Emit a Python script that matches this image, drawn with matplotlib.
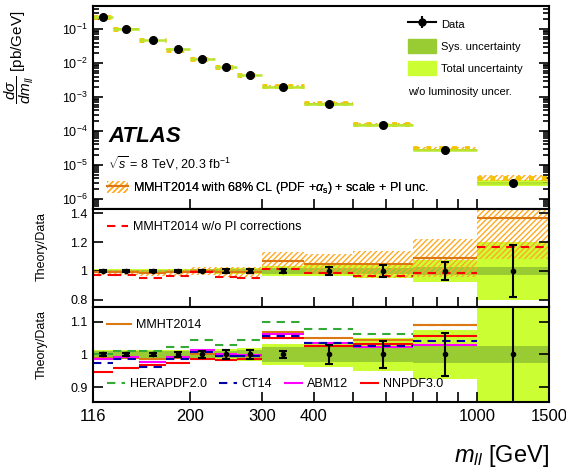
import numpy as np
import matplotlib
matplotlib.use('Agg')
import matplotlib.pyplot as plt
from matplotlib.patches import Patch
from matplotlib.lines import Line2D
from matplotlib.ticker import LogLocator, FixedLocator, FixedFormatter, NullLocator

plt.rcParams['font.family'] = ['Liberation Sans', 'DejaVu Sans']
plt.rcParams['mathtext.fontset'] = 'custom'
plt.rcParams['mathtext.rm'] = 'Liberation Sans'
plt.rcParams['mathtext.it'] = 'Liberation Sans:italic'
plt.rcParams['mathtext.bf'] = 'Liberation Sans:bold'
plt.rcParams['hatch.linewidth'] = 1.0

# m_ll bin edges [GeV]
edges = np.array([116, 130, 150, 175, 200, 230, 260, 300, 380, 500, 700, 1000, 1500])
# measured dsigma/dm_ll [pb/GeV]
xsec = np.array([0.224, 0.104, 0.048, 0.0252, 0.0133, 0.0076, 0.0044, 0.00195, 6.3e-4, 1.5e-4, 2.8e-5, 3.0e-6])
# relative uncertainties of the data
stat = np.array([0.004, 0.005, 0.006, 0.007, 0.01, 0.013, 0.014, 0.012, 0.03, 0.04, 0.065, 0.18])
sys_unc = np.array([0.01, 0.01, 0.01, 0.01, 0.011, 0.012, 0.013, 0.022, 0.022, 0.023, 0.025, 0.025])
tot_unc = np.array([0.015, 0.015, 0.015, 0.015, 0.016, 0.018, 0.02, 0.033, 0.038, 0.05, 0.075, 0.2])
# theory / data
mmht = np.array([0.99, 0.99, 0.985, 0.99, 1.0, 0.995, 0.995, 1.07, 1.05, 1.045, 1.09, 1.37])
mmht_unc = np.array([0.02, 0.02, 0.02, 0.025, 0.03, 0.035, 0.035, 0.055, 0.065, 0.09, 0.12, 0.21])
mmht_nopi = np.array([0.975, 0.975, 0.952, 0.966, 0.99, 0.96, 0.953, 1.015, 0.985, 0.965, 0.985, 1.165])
hera = np.array([1.002, 1.012, 1.01, 1.023, 1.043, 1.028, 1.043, 1.098, 1.079, 1.064, 1.089, 1.40])
ct14 = np.array([0.973, 0.987, 0.961, 0.987, 1.009, 0.995, 0.995, 1.055, 1.036, 1.026, 1.041, 1.30])
abm12 = np.array([0.987, 0.992, 0.976, 0.992, 1.015, 1.002, 0.999, 1.063, 1.036, 1.022, 1.028, 1.25])
nnpdf = np.array([0.946, 0.958, 0.969, 0.973, 0.987, 0.982, 0.987, 1.05, 1.026, 1.032, 1.056, 1.35])

xtick_vals = [116, 200, 300, 400, 500, 600, 700, 800, 900, 1000, 1500]
xtick_labs = ['116', '200', '300', '400', '', '', '', '', '', '1000', '1500']

C_TOT = '#ccff33'
C_SYS = '#99cc33'
C_HATCH = '#ffaa22'
C_TH = '#dd7711'

centers = np.sqrt(edges[:-1] * edges[1:])
lo = edges[:-1]
hi = edges[1:]
w = np.diff(edges)

fig = plt.figure(figsize=(5.66, 4.72), dpi=100)
ax0 = fig.add_axes([0.1643, 0.5572, 0.8057, 0.4301])
ax1 = fig.add_axes([0.1643, 0.3496, 0.8057, 0.2076])
ax2 = fig.add_axes([0.1643, 0.1483, 0.8057, 0.2013])

def band(ax, centre, rel, **kw):
    ax.bar(lo, 2 * centre * rel, bottom=centre * (1 - rel), width=w, align='edge', lw=0, **kw)

# main panel
band(ax0, xsec, tot_unc, color=C_TOT)
band(ax0, xsec, sys_unc, color=C_SYS)
band(ax0, xsec * mmht, mmht_unc, facecolor='none', edgecolor=C_HATCH, hatch='//////')
ax0.hlines(xsec * mmht, lo, hi, color='#f5c400', lw=3.5, linestyle=':')
ax0.hlines(xsec, lo, hi, color='#b8e62e', lw=1.8)
ax0.plot(centers, xsec, 'o', color='k', ms=5.5, zorder=5)
ax0.set_yscale('log')
ax0.set_ylim(5e-7, 0.48)
ax0.yaxis.set_major_locator(LogLocator(base=10, numticks=20))
ax0.yaxis.set_minor_locator(LogLocator(base=10, subs=np.arange(2, 10), numticks=100))

# ratio panel 1
ones = np.ones_like(xsec)
band(ax1, ones, tot_unc, color=C_TOT)
band(ax1, ones, sys_unc, color=C_SYS)
band(ax1, mmht, mmht_unc, facecolor='none', edgecolor=C_HATCH, hatch='//////')
ax1.hlines(mmht, lo, hi, color=C_TH, lw=1.5)
ax1.hlines(mmht_nopi, lo, hi, color='red', lw=1.5, linestyles=(0, (4, 3)))
ax1.errorbar(centers, ones, yerr=stat, fmt='o', ms=3, color='k', elinewidth=1.5,
             capsize=3, capthick=1.5, zorder=6)
ax1.set_ylim(0.75, 1.43)
ax1.yaxis.set_major_locator(FixedLocator([0.8, 1.0, 1.2, 1.4]))
ax1.yaxis.set_major_formatter(FixedFormatter(['0.8', '1', '1.2', '1.4']))

# ratio panel 2
band(ax2, ones, tot_unc, color=C_TOT)
band(ax2, ones, sys_unc, color=C_SYS)
ax2.hlines(hera, lo, hi, color='#33aa33', lw=1.5, linestyles=(0, (4, 3)))
ax2.hlines(mmht, lo, hi, color=C_TH, lw=1.5)
ax2.hlines(nnpdf, lo, hi, color='red', lw=1.5)
ax2.hlines(abm12, lo, hi, color='magenta', lw=1.5)
ax2.hlines(ct14, lo, hi, color='#0000aa', lw=1.5, linestyles=(0, (4, 3)))
ax2.errorbar(centers, ones, yerr=stat, fmt='o', ms=3, color='k', elinewidth=1.5,
             capsize=3, capthick=1.5, zorder=6)
ax2.set_ylim(0.855, 1.145)
ax2.yaxis.set_major_locator(FixedLocator([0.9, 1.0, 1.1]))
ax2.yaxis.set_major_formatter(FixedFormatter(['0.9', '1', '1.1']))

for ax in (ax0, ax1, ax2):
    ax.set_xscale('log')
    ax.set_xlim(116, 1500)
    ax.xaxis.set_major_locator(FixedLocator(xtick_vals))
    ax.xaxis.set_major_formatter(FixedFormatter(xtick_labs))
    ax.xaxis.set_minor_locator(NullLocator())
    ax.tick_params(which='both', direction='in', right=True, top=False, width=1.2)
    ax.tick_params(which='major', length=7)
    ax.tick_params(which='minor', length=4)
    ax.tick_params(axis='y', labelsize=9, pad=4)
    for s in ax.spines.values():
        s.set_linewidth(1.5)
ax0.tick_params(axis='x', labelbottom=False)
ax1.tick_params(axis='x', labelbottom=False)
ax2.tick_params(axis='x', labelsize=12, pad=5)

# labels
ax0.set_ylabel(r'$\dfrac{d\sigma}{dm_{ll}}$ [pb/GeV]', fontsize=11, loc='top')
ax0.yaxis.set_label_coords(-0.125, 0.98)
ax1.set_ylabel('Theory/Data', fontsize=9, loc='top')
ax1.yaxis.set_label_coords(-0.1, 0.97)
ax2.set_ylabel('Theory/Data', fontsize=9, loc='top')
ax2.yaxis.set_label_coords(-0.1, 0.97)
ax2.set_xlabel(r'$m_{ll}$ [GeV]', fontsize=17, loc='right')
ax2.xaxis.set_label_coords(1.0, -0.43)

# legends
h_data = (Line2D([], [], color='k', lw=1.5),
          Line2D([], [], marker='|', ms=9, mew=1.5, ls='none', color='k'),
          Line2D([], [], marker='o', ms=5, ls='none', color='k'))
leg = ax0.legend([h_data, Patch(color=C_SYS), Patch(color=C_TOT)],
                 ['Data', 'Sys. uncertainty', 'Total uncertainty'],
                 loc='upper left', bbox_to_anchor=(0.691, 0.946), frameon=False,
                 fontsize=8, handlelength=2.5, handleheight=1.65, handletextpad=0.5,
                 labelspacing=0.65, borderpad=0, borderaxespad=0)
ax0.add_artist(leg)
ax0.text(0.691, 0.576, 'w/o luminosity uncer.', transform=ax0.transAxes, fontsize=8, va='center')

h_th = (Patch(facecolor='none', edgecolor=C_HATCH, hatch='//////', lw=0),
        Line2D([], [], color=C_TH, lw=1.5))
leg = ax0.legend([h_th], [r'MMHT2014 with 68% CL (PDF +$\alpha_\mathrm{s}$) + scale + PI unc.'],
                 loc='center left', bbox_to_anchor=(0.031, 0.103), frameon=False,
                 fontsize=9, handlelength=1.7, handleheight=1.1, handletextpad=0.4,
                 borderpad=0, borderaxespad=0)
ax0.add_artist(leg)

ax0.text(0.033, 0.355, 'ATLAS', transform=ax0.transAxes, fontsize=16,
         fontweight='bold', fontstyle='italic', va='center')
ax0.text(0.033, 0.227, r'$\sqrt{s}$ = 8 TeV, 20.3 fb$^{-1}$', transform=ax0.transAxes,
         fontsize=9, va='center')

ax1.legend([Line2D([], [], color='red', lw=1.5, ls=(0, (4, 3)))], ['MMHT2014 w/o PI corrections'],
           loc='center left', bbox_to_anchor=(0.031, 0.816), frameon=False, fontsize=9,
           handlelength=1.7, handletextpad=0.4, borderpad=0, borderaxespad=0)

leg = ax2.legend([Line2D([], [], color=C_TH, lw=1.5)], ['MMHT2014'],
                 loc='center left', bbox_to_anchor=(0.031, 0.81), frameon=False, fontsize=9,
                 handlelength=1.9, handletextpad=0.4, borderpad=0, borderaxespad=0)
ax2.add_artist(leg)
ax2.legend([Line2D([], [], color='#33aa33', lw=1.5, ls=(0, (4, 3))),
            Line2D([], [], color='#0000aa', lw=1.5, ls=(0, (4, 3))),
            Line2D([], [], color='magenta', lw=1.5),
            Line2D([], [], color='red', lw=1.5)],
           ['HERAPDF2.0', 'CT14', 'ABM12', 'NNPDF3.0'], ncol=4,
           loc='center left', bbox_to_anchor=(0.031, 0.19), frameon=False, fontsize=9,
           handlelength=1.4, handletextpad=0.4, columnspacing=1.0, borderpad=0, borderaxespad=0)

fig.savefig('out.png', dpi=100, facecolor='white')
